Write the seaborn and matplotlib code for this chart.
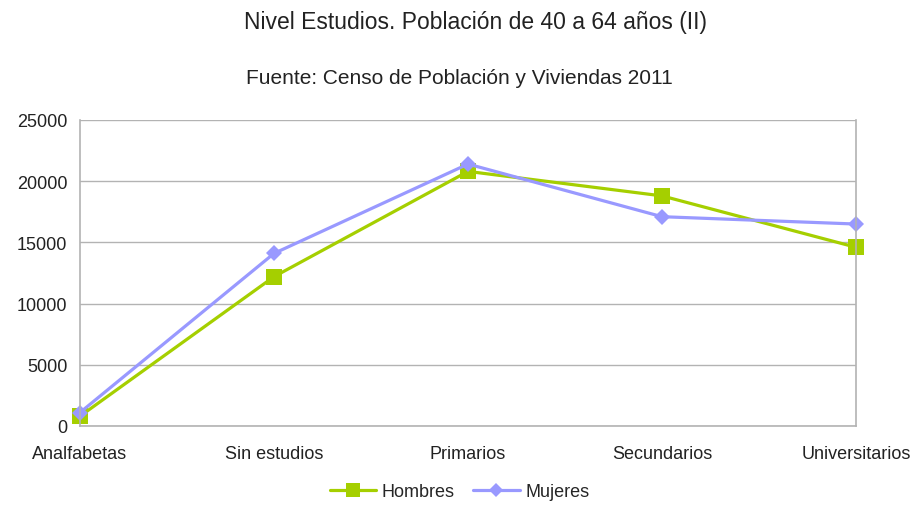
import pandas as pd
import seaborn as sns
import matplotlib.pyplot as plt
from matplotlib.lines import Line2D

niveles = ["Analfabetas", "Sin estudios", "Primarios", "Secundarios", "Universitarios"]
hombres = [800, 12200, 20800, 18800, 14600]
mujeres = [1100, 14100, 21400, 17100, 16500]

df = pd.DataFrame({"nivel": niveles * 2,
                   "valor": hombres + mujeres,
                   "sexo": ["Hombres"] * 5 + ["Mujeres"] * 5})

sns.set_style("white")
plt.rcParams['font.family'] = ['Liberation Sans', 'DejaVu Sans']

verde = "#a5cf00"
lila = "#9999ff"

fig = plt.figure(figsize=(9.19, 5.06), dpi=100)
ax = fig.add_axes([80 / 919, 1 - 427 / 506, (856 - 80) / 919, (427 - 121) / 506])

sns.lineplot(data=df, x="nivel", y="valor", hue="sexo", style="sexo",
             palette={"Hombres": verde, "Mujeres": lila},
             markers={"Hombres": "s", "Mujeres": "D"}, dashes=False,
             markersize=11, linewidth=2.3, markeredgewidth=0, ax=ax, legend=False)
ax.lines[1].set_markersize(8)
for ln in ax.lines:
    ln.set_clip_on(False)

gc = "#b3b3b3"
ax.set_xlim(0, 4)
ax.set_ylim(0, 25000)
ax.set_yticks(range(0, 25001, 5000))
ax.yaxis.grid(True, color=gc, lw=1)
ax.set_axisbelow(True)
for s in ["left", "bottom", "right"]:
    ax.spines[s].set_color(gc)
    ax.spines[s].set_linewidth(1.2)
ax.spines["top"].set_visible(False)
ax.tick_params(axis="both", length=5, color=gc, width=1, labelsize=13,
               labelcolor="#222222")
ax.tick_params(axis="y", pad=4)
ax.tick_params(axis="x", pad=9)
ax.set_xlabel("")
ax.set_ylabel("")

fig.text(476 / 919, 1 - 22 / 506, "Nivel Estudios. Población de 40 a 64 años (II)",
         ha="center", va="center", fontsize=16.5, color="#222222")
fig.text(0.5, 1 - 78 / 506, "Fuente: Censo de Población y Viviendas 2011",
         ha="center", va="center", fontsize=15, color="#222222")

handles = [Line2D([], [], color=verde, lw=2.3, marker="s", markersize=10, markeredgewidth=0),
           Line2D([], [], color=lila, lw=2.3, marker="D", markersize=7, markeredgewidth=0)]
fig.legend(handles, ["Hombres", "Mujeres"], loc="center", bbox_to_anchor=(0.5, 1 - 493 / 506),
           ncol=2, frameon=False, fontsize=13, handlelength=2.6, handletextpad=0.3,
           columnspacing=1.0)

fig.savefig("out.png", dpi=100)
